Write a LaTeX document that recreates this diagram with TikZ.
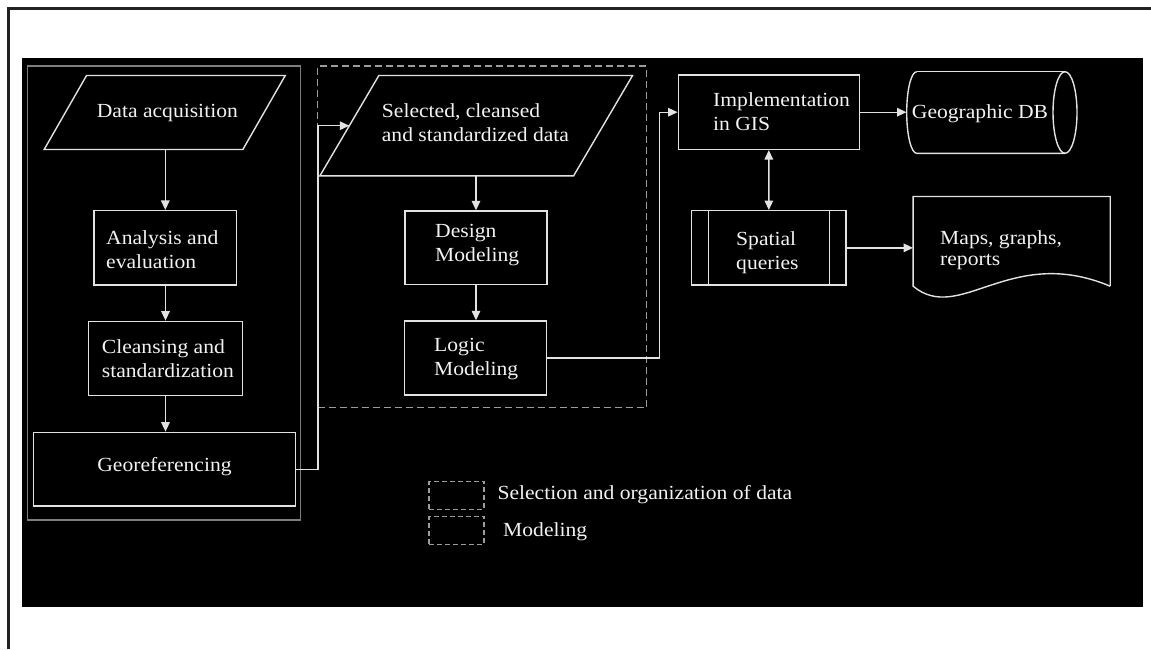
\documentclass[tikz,border=0pt]{standalone}
\usepackage{fontspec}
\setmainfont{Liberation Serif}[FakeStretch=1.08]
\usetikzlibrary{arrows.meta,calc}
\definecolor{ln}{HTML}{E2E2E2}
\definecolor{frm}{HTML}{7E7E7E}
\definecolor{dsh}{HTML}{9C9C9C}
\definecolor{edge}{HTML}{222222}
\definecolor{tx}{HTML}{F2F2F2}
\begin{document}
\begin{tikzpicture}[x=1pt,y=1pt,
  shp/.style={draw=ln, line width=1.4pt},
  boxn/.style={draw=ln, line width=1.4pt, inner sep=0pt},
  txt/.style={text=tx, inner sep=0pt, anchor=west, align=left, font=\fontsize{20}{24}\selectfont},
  arr/.style={draw=ln, line width=1.4pt, -{Triangle[width=8.5pt,length=9.5pt]}},
  darr/.style={draw=ln, line width=1.4pt, {Triangle[width=8.5pt,length=9.5pt]}-{Triangle[width=8.5pt,length=9.5pt]}},
  grpsolid/.style={draw=frm, line width=1.4pt, inner sep=0pt},
  grpdash/.style={draw=dsh, line width=1.3pt, dash pattern=on 7pt off 4pt, inner sep=0pt}
]
\useasboundingbox (0,0) rectangle (1151,-649);
\fill[white] (0,0) rectangle (1151,-649);
\draw[edge, line width=2.5pt] (8.5,-649) -- (8.5,-8.5) -- (1151,-8.5);
\fill[black] (22,-58) rectangle (1143,-607);

% group frames
\node[grpsolid, minimum width=273pt, minimum height=454pt] (grp1) at (164,-293) {};
\node[grpdash, minimum width=329pt, minimum height=341.5pt] (grp2) at (482,-236.75) {};

% Data acquisition (parallelogram)
\node[inner sep=0pt, minimum width=240.7pt, minimum height=73.6pt] (da) at (164.7,-112.5) {};
\draw[shp] (da.south west) -- ($(da.north west)+(42.4,0)$) -- (da.north east) -- ($(da.south east)+(-42.4,0)$) -- cycle;
\node[txt] (dat) at (96.7,-113) {Data acquisition};

% Analysis
\node[boxn, minimum width=142.7pt, minimum height=74.3pt] (an) at (165.3,-247.8) {};
\node[txt] (ant) at (106,-249.5) {Analysis and\\evaluation};

% Cleansing
\node[boxn, minimum width=154.4pt, minimum height=74.4pt] (cl) at (165.5,-358.5) {};
\node[txt] (clt) at (101.7,-358.5) {Cleansing and\\standardization};

% Georeferencing
\node[boxn, minimum width=262.4pt, minimum height=73.7pt] (geo) at (164.5,-469.2) {};
\node[txt, anchor=center] (geot) at (164.5,-467) {Georeferencing};

% Selected data (parallelogram)
\node[inner sep=0pt, minimum width=312.3pt, minimum height=100pt] (sel) at (476.2,-125.7) {};
\draw[shp] (sel.south west) -- ($(sel.north west)+(59,0)$) -- (sel.north east) -- ($(sel.south east)+(-59,0)$) -- cycle;
\coordinate (selL) at ($(sel.west)+(29.5,0)$);
\node[txt] (selt) at (381.7,-122.5) {Selected, cleansed\\and standardized data};

% Design modeling
\node[boxn, minimum width=142pt, minimum height=73.3pt] (des) at (476,-247.7) {};
\node[txt] (dest) at (435,-245.5) {Design\\Modeling};

% Logic modeling
\node[boxn, minimum width=142pt, minimum height=74pt] (log) at (475.5,-358) {};
\node[txt] (logt) at (434,-359.5) {Logic\\Modeling};

% Implementation
\node[boxn, minimum width=181pt, minimum height=74.3pt] (impl) at (768.8,-112.2) {};
\node[txt] (implt) at (713,-112) {Implementation\\in GIS};

% Geographic DB (cylinder)
\node[inner sep=0pt, minimum width=170.3pt, minimum height=81.6pt] (gdb) at (991.85,-112.5) {};
\draw[shp] (916.7,-71.7) arc[start angle=90, end angle=270, x radius=10pt, y radius=40.8pt] -- (1065,-153.3);
\draw[shp] (916.7,-71.7) -- (1065,-71.7);
\draw[shp] (1065,-112.5) ellipse [x radius=12pt, y radius=40.8pt];
\node[txt] (gdbt) at (911.7,-113.3) {Geographic DB};

% Spatial queries
\node[boxn, minimum width=154.3pt, minimum height=74.3pt] (sq) at (768.85,-247.85) {};
\draw[shp] ($(sq.north west)+(17.6,0)$) -- ($(sq.south west)+(17.6,0)$);
\draw[shp] ($(sq.north east)+(-17,0)$) -- ($(sq.south east)+(-17,0)$);
\node[txt] (sqt) at (736,-253) {Spatial\\queries};

% Maps document
\node[inner sep=0pt, minimum width=196.7pt, minimum height=89.3pt] (maps) at (1011.65,-241.35) {};
\draw[shp] (maps.south east) -- (maps.north east) -- (maps.north west) -- (maps.south west)
  .. controls (960,-325) and (1010,-244) .. (maps.south east);
\node[txt, font=\fontsize{20}{21.5}\selectfont] (mapst) at (940,-250) {Maps, graphs,\\reports};

% connectors
\draw[arr] (an.north |- da.south) -- (an.north);
\draw[arr] (an.south) -- (cl.north |- an.south) -- (cl.north);
\draw[arr] (cl.south) -- (geo.north -| cl.south);
\draw[arr] (geo.east) -- ++(21.5,0) |- (selL);
\draw[arr] (des.north |- sel.south) -- (des.north);
\draw[arr] (des.south) -- (des.south |- log.north);
\draw[arr] (log.east) -- ++(112.5,0) |- (impl.west);
\draw[arr] (impl.east) -- (impl.east -| gdb.west);
\draw[darr] (impl.south) -- (sq.north);
\draw[arr] (sq.east) -- (sq.east -| maps.west);

% legend
\node[grpdash, line width=1.1pt, dash pattern=on 5pt off 3pt, minimum width=55pt, minimum height=27.6pt] (leg1) at (456.5,-495.5) {};
\node[grpdash, line width=1.1pt, dash pattern=on 5pt off 3pt, minimum width=55pt, minimum height=27.6pt] (leg2) at (456.5,-530.5) {};
\node[txt] (leg1t) at (497.3,-495) {Selection and organization of data};
\node[txt] (leg2t) at (503,-532) {Modeling};
\end{tikzpicture}
\end{document}
